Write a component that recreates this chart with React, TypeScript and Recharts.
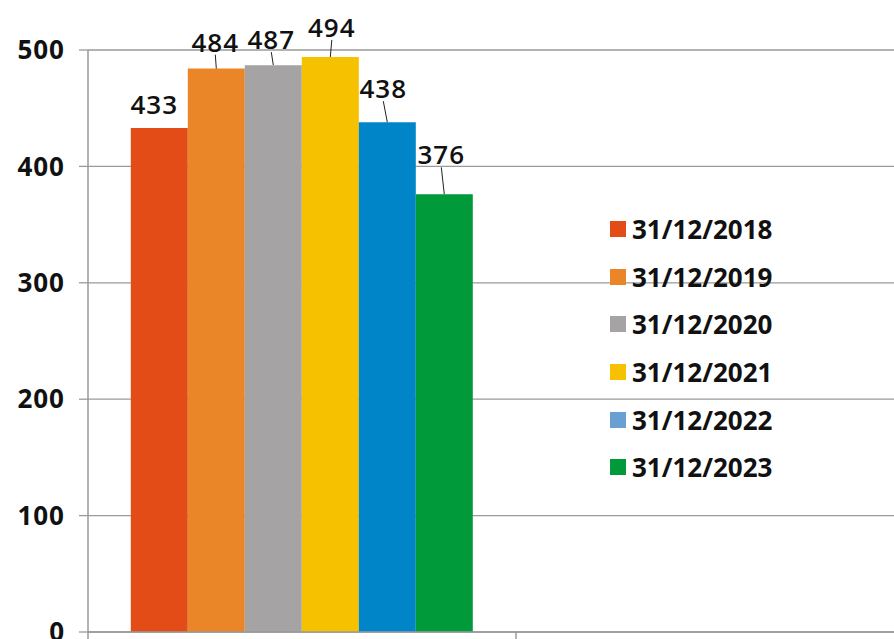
import React from "react";
import { BarChart, Bar, XAxis, YAxis, CartesianGrid, Legend, LabelList } from "recharts";

const categories = ["total", "empty"];
const seriesNames = ["31/12/2018", "31/12/2019", "31/12/2020", "31/12/2021", "31/12/2022", "31/12/2023"];
const seriesValues = [433, 484, 487, 494, 438, 376];
const barColors = ["#e34c16", "#ea8528", "#a5a3a4", "#f6c200", "#0085c8", "#009a3a"];
const legendColors = ["#e34c16", "#ea8528", "#a5a3a4", "#f6c200", "#6a9fd2", "#009a3a"];
const yTicks = [0, 100, 200, 300, 400, 500];

// label placement: [dx, distance above bar top, leader line?]
const labelPlace: [number, number, boolean][] = [
  [-5, 24, false],
  [-1, 27, true],
  [-2, 26, true],
  [1.5, 30, true],
  [-4, 34, true],
  [-3, 40, true],
];

const keys = seriesNames.map((_, i) => "s" + i);

const data = categories.map((c, ci) => {
  const row: any = { cat: c };
  keys.forEach((k, i) => {
    row[k] = ci === 0 ? seriesValues[i] : null;
  });
  return row;
});

const FONT = "'Open Sans', sans-serif";
const GRID = "#9a9a9a";

function makeLabel(i: number) {
  const [dx, up, line] = labelPlace[i];
  return (props: any) => {
    const { x, y, width, value } = props;
    if (value == null) return null;
    const cx = x + width / 2;
    const ty = y - up;
    return (
      <g>
        <text x={cx + dx} y={ty} textAnchor="middle" dominantBaseline="central"
          fontFamily={FONT} fontWeight={600} fontSize={26} letterSpacing={1} fill="#111">
          {value}
        </text>
        {line && <line x1={cx + dx} y1={ty + 13} x2={cx} y2={y} stroke="#222" strokeWidth={1} />}
      </g>
    );
  };
}

// tick mark at the start of each category band instead of its centre
function EdgeTick(props: any) {
  const { x, y, payload } = props;
  const off = payload && payload.offset ? payload.offset : 0;
  return <line x1={x - off} x2={x - off} y1={y} y2={y + 7} stroke={GRID} strokeWidth={1.5} />;
}

function LegendBox() {
  return (
    <div style={{ fontFamily: FONT, fontWeight: 700, fontSize: 26, color: "#111", lineHeight: 1 }}>
      {seriesNames.map((n, i) => (
        <div key={n} style={{ display: "flex", alignItems: "center", height: 47.7 }}>
          <span style={{ display: "inline-block", width: 16, height: 16, background: legendColors[i], marginRight: 6 }} />
          <span>{n}</span>
        </div>
      ))}
    </div>
  );
}

export default function App() {
  return (
    <div style={{ width: 894, height: 639, overflow: "hidden", position: "relative", background: "#fff" }}>
      <style>{"body{margin:0}"}</style>
      <BarChart width={960} height={639} data={data}
        margin={{ top: 50, right: 16, left: 0, bottom: 0 }}
        barCategoryGap="10%" barGap={0}>
        <CartesianGrid vertical={false} stroke={GRID} strokeWidth={1.3} />
        <XAxis dataKey="cat" height={7} tickSize={0} tickMargin={0} tickLine={false} interval={0}
          axisLine={{ stroke: GRID, strokeWidth: 1.5 }} tick={<EdgeTick />} />
        <YAxis domain={[0, 500]} ticks={yTicks} interval={0} width={88} tickSize={9} tickMargin={14}
          axisLine={{ stroke: GRID, strokeWidth: 1.5 }} tickLine={{ stroke: GRID, strokeWidth: 1.3 }}
          tick={{ fontFamily: FONT, fontWeight: 700, fontSize: 26, fill: "#111", letterSpacing: 1 }} />
        <Legend layout="vertical" align="center" verticalAlign="middle"
          wrapperStyle={{ left: 610, top: 205, width: 200, height: 290 }}
          content={() => <LegendBox />} />
        {keys.map((k, i) => (
          <Bar key={k} dataKey={k} name={seriesNames[i]} fill={barColors[i]} isAnimationActive={false}>
            <LabelList dataKey={k} content={makeLabel(i)} />
          </Bar>
        ))}
      </BarChart>
    </div>
  );
}
